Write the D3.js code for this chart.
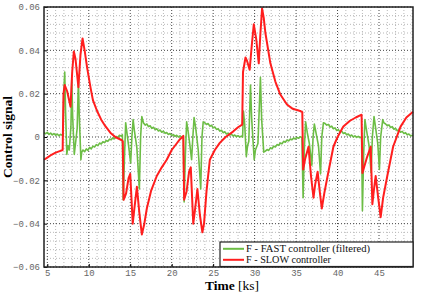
<!DOCTYPE html>
<html>
<head>
<meta charset="utf-8">
<script src="https://cdn.jsdelivr.net/npm/d3@7"></script>
<style>
  body { margin: 0; background: #fff; }
  svg { display: block; }
</style>
</head>
<body>
<svg id="chart" width="421" height="292"></svg>
<script>
// slow controller output, [time ks, value]
var slowSeries = [
  [4.6,-0.0105],[5.0,-0.0095],[5.5,-0.0082],[6.0,-0.0072],[6.5,-0.0065],[6.85,-0.006],
  [6.95,0.02],[7.1,0.024],[7.4,0.021],[7.8,0.014],[8.0,0.03],[8.2,0.0395],[8.4,0.036],[8.75,0.023],
  [9.0,0.038],[9.25,0.0455],[9.5,0.04],[9.8,0.032],[10.2,0.023],[10.5,0.017],[11.0,0.012],[11.5,0.008],
  [12.0,0.005],[12.6,0.002],[13.2,0.0],[14.0,-0.0015],[14.1,-0.002],
  [14.2,-0.029],[14.5,-0.026],[14.8,-0.019],[15.0,-0.017],[15.3,-0.040],[15.5,-0.033],[15.8,-0.023],
  [16.1,-0.035],[16.4,-0.045],[16.7,-0.040],[17.0,-0.033],[17.5,-0.025],[18.2,-0.018],[18.8,-0.014],
  [19.4,-0.0105],[20.0,-0.006],[20.6,-0.003],[21.0,-0.001],[21.4,0.0005],
  [21.5,-0.029],[21.8,-0.025],[22.1,-0.016],[22.3,-0.014],[22.6,-0.040],[22.8,-0.034],[23.1,-0.024],
  [23.4,-0.036],[23.7,-0.044],[23.9,-0.040],[24.2,-0.025],[24.6,-0.0105],[25.2,-0.006],[25.8,-0.0027],
  [26.5,0.0],[27.4,0.0025],[28.0,0.0045],[28.5,0.0057],
  [28.6,0.03],[28.9,0.0367],[29.1,0.035],[29.4,0.031],[29.65,0.042],[29.9,0.052],[30.2,0.045],
  [30.5,0.034],[30.7,0.048],[30.9,0.0594],[31.1,0.055],[31.3,0.048],[31.9,0.034],[32.5,0.0256],
  [33.1,0.0196],[33.9,0.015],[34.6,0.013],[35.5,0.012],[35.75,0.0115],
  [35.85,-0.015],[36.1,-0.01],[36.5,-0.0045],[36.8,-0.018],[37.1,-0.028],[37.3,-0.022],[37.6,-0.016],
  [37.85,-0.025],[38.1,-0.033],[38.4,-0.026],[38.8,-0.018],[39.5,-0.0045],[40.0,0.0],[40.7,0.0048],
  [41.5,0.0075],[42.2,0.009],[42.9,0.0103],
  [43.0,-0.0166],[43.5,-0.010],[44.0,-0.0045],[44.2,-0.031],[44.4,-0.024],[44.6,-0.018],[44.9,-0.028],
  [45.2,-0.037],[45.5,-0.028],[46.0,-0.018],[46.7,-0.0045],[47.6,0.0048],[48.3,0.009],[49.1,0.0117]
];

// fast controller output (filtered), [time ks, value]
var fastSeries = [
  [4.6,0.002],[4.8,0.0015],[5.0,0.0022],[5.2,0.0012],[5.4,0.0018],[5.6,0.001],[5.8,0.0016],[6.0,0.0008],
  [6.2,0.0014],[6.4,0.0006],[6.6,0.0012],[6.8,0.0008],[6.9,0.0005],
  [7.0,0.022],[7.1,0.030],[7.2,0.012],[7.35,-0.008],[7.5,-0.004],[7.65,-0.006],[7.85,0.005],[7.95,0.0265],
  [8.05,0.01],[8.25,-0.008],[8.4,-0.003],[8.6,0.004],[8.75,0.026],[8.85,0.01],[9.05,-0.0105],[9.15,-0.007],
  [9.3,-0.006],[9.5,-0.0068],[9.7,-0.0055],[9.9,-0.0062],[10.1,-0.0048],[10.3,-0.0055],[10.5,-0.0042],
  [10.7,-0.0046],[10.9,-0.0035],[11.1,-0.004],[11.3,-0.0028],[11.5,-0.0032],[11.7,-0.0022],[11.9,-0.0026],
  [12.1,-0.0016],[12.3,-0.002],[12.5,-0.001],[12.7,-0.0013],[12.9,-0.0004],[13.1,-0.0008],[13.3,0.0002],
  [13.5,-0.0002],[13.7,0.0008],[13.9,0.0004],[14.05,0.001],
  [14.15,-0.029],[14.3,-0.01],[14.45,0.0066],[14.6,0.002],[14.8,-0.004],[15.05,-0.012],[15.2,0.0],
  [15.35,0.008],[15.5,0.003],[15.8,-0.005],[16.1,-0.024],[16.25,0.0],[16.4,0.0094],
  [16.6,0.0065],[16.8,0.0055],[17.0,0.006],[17.2,0.0048],[17.4,0.0052],[17.6,0.004],[17.8,0.0045],
  [18.0,0.0034],[18.2,0.0038],[18.4,0.0028],[18.6,0.0032],[18.8,0.0022],[19.0,0.0027],[19.2,0.0017],
  [19.4,0.0021],[19.6,0.0012],[19.8,0.0016],[20.0,0.0007],[20.2,0.0011],[20.4,0.0003],[20.6,0.0008],
  [20.8,0.0],[21.0,0.0005],[21.2,-0.0002],[21.4,0.0003],
  [21.5,-0.030],[21.65,-0.008],[21.8,0.007],[22.0,0.002],[22.2,-0.004],[22.4,-0.0105],[22.55,0.0],
  [22.7,0.009],[22.9,0.004],[23.2,-0.006],[23.5,-0.024],[23.65,0.0],[23.8,0.007],
  [24.0,0.0065],[24.2,0.0058],[24.4,0.0062],[24.6,0.005],[24.8,0.0054],[25.0,0.0042],[25.2,0.0046],
  [25.4,0.0035],[25.6,0.0038],[25.8,0.0027],[26.0,0.0031],[26.2,0.002],[26.4,0.0024],[26.6,0.0014],
  [26.8,0.0018],[27.0,0.0009],[27.2,0.0013],[27.4,0.0005],[27.6,0.0009],[27.8,0.0002],[28.0,0.0006],
  [28.2,0.0],[28.4,0.0004],[28.55,0.0],
  [28.65,0.012],[28.8,0.006],[29.0,-0.009],[29.15,-0.004],[29.3,-0.002],[29.5,0.024],[29.65,0.008],
  [29.95,-0.0105],[30.1,-0.006],[30.4,-0.003],[30.7,0.0275],[30.85,0.008],[31.1,-0.007],
  [31.3,-0.0065],[31.5,-0.0058],[31.7,-0.0062],[31.9,-0.005],[32.1,-0.0054],[32.3,-0.0042],[32.5,-0.0046],
  [32.7,-0.0035],[32.9,-0.0038],[33.1,-0.0028],[33.3,-0.0031],[33.5,-0.002],[33.7,-0.0024],[33.9,-0.0014],
  [34.1,-0.0018],[34.3,-0.0009],[34.5,-0.0013],[34.7,-0.0005],[34.9,-0.0009],[35.1,-0.0002],[35.3,-0.0006],
  [35.5,0.0001],[35.7,-0.0002],
  [35.85,-0.028],[36.0,-0.005],[36.15,0.007],[36.35,0.002],[36.6,-0.003],[36.9,-0.013],[37.05,0.0],
  [37.2,0.006],[37.4,0.002],[37.7,-0.004],[37.95,-0.017],[38.1,0.0],[38.3,0.0066],
  [38.5,0.0062],[38.7,0.0055],[38.9,0.0058],[39.1,0.0046],[39.3,0.005],[39.5,0.0038],[39.7,0.0042],
  [39.9,0.003],[40.1,0.0034],[40.3,0.0023],[40.5,0.0027],[40.7,0.0016],[40.9,0.002],[41.1,0.001],
  [41.3,0.0014],[41.5,0.0005],[41.7,0.0009],[41.9,0.0],[42.1,0.0005],[42.3,-0.0002],[42.5,0.0003],
  [42.7,-0.0003],[42.9,0.0001],
  [43.0,-0.034],[43.15,-0.008],[43.3,0.008],[43.5,0.003],[43.8,-0.004],[44.05,-0.0165],[44.2,0.0],
  [44.4,0.0094],[44.6,0.004],[44.85,-0.003],[45.05,-0.015],[45.2,0.0],[45.45,0.008],
  [45.6,0.0065],[45.8,0.006],[46.0,0.0052],[46.2,0.0056],[46.4,0.0044],[46.6,0.0048],[46.8,0.0036],
  [47.0,0.004],[47.2,0.0029],[47.4,0.0033],[47.6,0.0022],[47.8,0.0026],[48.0,0.0016],[48.2,0.002],
  [48.4,0.001],[48.6,0.0014],[48.8,0.0006],[49.1,0.0008]
];

var xTicks = [5, 10, 15, 20, 25, 30, 35, 40, 45];
var yTicks = [-0.06, -0.04, -0.02, 0, 0.02, 0.04, 0.06];
var yTickLabels = ['\u22120.06', '\u22120.04', '\u22120.02', '0', '0.02', '0.04', '0.06'];
var legendLabels = ['F - FAST controller (filtered)', 'F - SLOW controller'];

var margin = { top: 7, right: 8, bottom: 25, left: 44 };
var width = 421 - margin.left - margin.right;
var height = 292 - margin.top - margin.bottom;

var svg = d3.select('#chart');
var g = svg.append('g').attr('transform', 'translate(' + margin.left + ',' + margin.top + ')');

var x = d3.scaleLinear().domain([4.6, 49.1]).range([0, width]);
var y = d3.scaleLinear().domain([-0.06, 0.06]).range([height, 0]);

// minor grid
var xMinor = d3.range(5, 49.1, 1).filter(d => d % 5 !== 0);
var yMinor = d3.range(-0.06, 0.0601, 0.004).filter(d => Math.abs(Math.round(d * 1000) % 20) !== 0);

g.append('g').selectAll('line').data(xMinor).enter().append('line')
  .attr('x1', d => x(d)).attr('x2', d => x(d)).attr('y1', 0).attr('y2', height)
  .attr('stroke', '#b8b8b8').attr('stroke-width', 1).attr('stroke-dasharray', '1,2');
g.append('g').selectAll('line').data(yMinor).enter().append('line')
  .attr('x1', 0).attr('x2', width).attr('y1', d => y(d)).attr('y2', d => y(d))
  .attr('stroke', '#b8b8b8').attr('stroke-width', 1).attr('stroke-dasharray', '1,2');

// major grid
g.append('g').selectAll('line').data(xTicks).enter().append('line')
  .attr('x1', d => x(d)).attr('x2', d => x(d)).attr('y1', 0).attr('y2', height)
  .attr('stroke', '#444').attr('stroke-width', 1).attr('stroke-dasharray', '1,2');
g.append('g').selectAll('line').data(yTicks).enter().append('line')
  .attr('x1', 0).attr('x2', width).attr('y1', d => y(d)).attr('y2', d => y(d))
  .attr('stroke', '#444').attr('stroke-width', 1).attr('stroke-dasharray', '1,2');

var line = d3.line().x(d => x(d[0])).y(d => y(d[1]));

g.append('path').datum(fastSeries)
  .attr('d', line).attr('fill', 'none')
  .attr('stroke', '#6cbd45').attr('stroke-width', 1.6).attr('stroke-linejoin', 'round');
g.append('path').datum(slowSeries)
  .attr('d', line).attr('fill', 'none')
  .attr('stroke', '#ff1e1e').attr('stroke-width', 2).attr('stroke-linejoin', 'round');

// axes
var xAxis = g.append('g').attr('transform', 'translate(0,' + height + ')')
  .call(d3.axisBottom(x).tickValues(xTicks).tickSize(-3).tickPadding(3));
var yAxis = g.append('g')
  .call(d3.axisLeft(y).tickValues(yTicks).tickSize(-3).tickPadding(4)
    .tickFormat((d, i) => yTickLabels[i]));

[xAxis, yAxis].forEach(a => {
  a.select('.domain').remove();
  a.selectAll('line').attr('stroke', '#000');
  a.selectAll('text').attr('font-family', 'Liberation Mono, monospace')
    .attr('font-size', 9).attr('fill', '#666');
});

// frame
g.append('rect').attr('width', width).attr('height', height)
  .attr('fill', 'none').attr('stroke', '#222').attr('stroke-width', 1.5);

// axis titles
svg.append('text')
  .attr('transform', 'translate(12,' + (margin.top + height / 2) + ') rotate(-90)')
  .attr('text-anchor', 'middle')
  .attr('font-family', 'Liberation Serif, serif').attr('font-weight', 'bold').attr('font-size', 13.5)
  .text('Control signal');

var xt = svg.append('text')
  .attr('x', 232).attr('y', 290).attr('text-anchor', 'middle')
  .attr('font-family', 'Liberation Serif, serif').attr('font-size', 13.5);
xt.append('tspan').attr('font-weight', 'bold').text('Time');
xt.append('tspan').text(' [ks]');

// legend
var lg = g.append('g').attr('transform', 'translate(' + (220 - margin.left) + ',' + (242 - margin.top) + ')');
lg.append('rect').attr('width', 193).attr('height', 24.5)
  .attr('fill', '#fff').attr('stroke', '#222').attr('stroke-width', 1.2);
var colors = ['#6cbd45', '#ff1e1e'];
legendLabels.forEach((t, i) => {
  var yy = 6.8 + i * 11;
  lg.append('line').attr('x1', 3).attr('x2', 24).attr('y1', yy).attr('y2', yy)
    .attr('stroke', colors[i]).attr('stroke-width', 2);
  lg.append('text').attr('x', 26).attr('y', yy + 3.3)
    .attr('font-family', 'Liberation Serif, serif').attr('font-size', 9.6).attr('fill', '#111')
    .attr('textLength', i === 0 ? 124 : 85).attr('lengthAdjust', 'spacingAndGlyphs')
    .text(t);
});
</script>
</body>
</html>
